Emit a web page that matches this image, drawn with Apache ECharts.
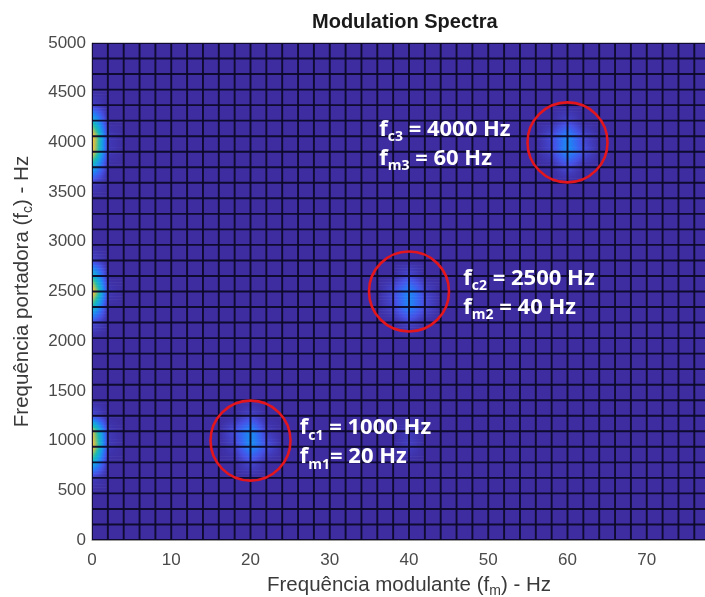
<!DOCTYPE html>
<html>
<head>
<meta charset="utf-8">
<title>Modulation Spectra</title>
<script src="https://cdn.jsdelivr.net/npm/echarts@6/dist/echarts.min.js"></script>
<style>
  html, body { margin: 0; padding: 0; background: #ffffff; }
  #chart { width: 705px; height: 597px; }
</style>
</head>
<body>
<div id="chart"></div>
<script>
// Modulation-frequency sample points (Hz) of the surface mesh
const fmHz = [0, 2, 4, 6, 8, 10, 12, 14, 16, 18, 20, 22, 24, 26, 28, 30, 32, 34, 36, 38,
  40, 42, 44, 46, 48, 50, 52, 54, 56, 58, 60, 62, 64, 66, 68, 70, 72, 74, 76, 78, 80];

// Carrier-frequency sample points (Hz) of the surface mesh
const fcHz = [0, 156.25, 312.5, 468.75, 625, 781.25, 937.5, 1093.75, 1250, 1406.25, 1562.5,
  1718.75, 1875, 2031.25, 2187.5, 2343.75, 2500, 2656.25, 2812.5, 2968.75, 3125, 3281.25,
  3437.5, 3593.75, 3750, 3906.25, 4062.5, 4218.75, 4375, 4531.25, 4687.5, 4843.75, 5000];

// Normalised magnitude everywhere outside the listed samples
const floorLevel = 0;

// Energy of the three carriers at fm = 0: [fm, fc, level]
const carrierEnergy = [
  [0, 1250, 0.1], [0, 1093.75, 0.85], [0, 937.5, 0.95], [0, 781.25, 0.5], [0, 625, 0.05],
  [0, 2812.5, 0.08], [0, 2656.25, 0.55], [0, 2500, 1.0], [0, 2343.75, 0.55], [0, 2187.5, 0.1],
  [0, 4375, 0.06], [0, 4218.75, 0.5], [0, 4062.5, 0.98], [0, 3906.25, 0.92], [0, 3750, 0.45], [0, 3593.75, 0.06],
  [2, 1093.75, 0.04], [2, 937.5, 0.04], [2, 2500, 0.04], [2, 4062.5, 0.04], [2, 3906.25, 0.04]
];

// Modulation peaks: [fm, fc, level]
const modulationEnergy = [
  // fc1 = 1000 Hz, fm1 = 20 Hz
  [20, 1250, 0.08], [20, 1093.75, 0.33], [20, 937.5, 0.33], [20, 781.25, 0.1],
  [18, 1093.75, 0.12], [18, 937.5, 0.06], [22, 1093.75, 0.05], [22, 937.5, 0.12],
  // weak cross term near fm = 40, fc = 1000
  [40, 1093.75, 0.05], [40, 937.5, 0.06],
  // fc2 = 2500 Hz, fm2 = 40 Hz
  [40, 2656.25, 0.1], [40, 2500, 0.31], [40, 2343.75, 0.3], [40, 2187.5, 0.08],
  [38, 2500, 0.1], [38, 2343.75, 0.08], [42, 2500, 0.08], [42, 2343.75, 0.1],
  // fc3 = 4000 Hz, fm3 = 60 Hz
  [60, 4218.75, 0.08], [60, 4062.5, 0.31], [60, 3906.25, 0.33], [60, 3750, 0.1],
  [58, 4062.5, 0.1], [58, 3906.25, 0.08], [62, 4062.5, 0.08], [62, 3906.25, 0.12]
];

// Annotated components
const componentFm = [20, 40, 60];
const componentFc = [1000, 2500, 4000];
const componentIndex = ['1', '2', '3'];

// Axis ticks
const fmTicks = [0, 10, 20, 30, 40, 50, 60, 70];
const fcTicks = [0, 500, 1000, 1500, 2000, 2500, 3000, 3500, 4000, 4500, 5000];

// parula-like colour map
const mapStops = [
  [0.00, '#3d2da0'], [0.12, '#4650e4'], [0.22, '#2f6ef4'], [0.30, '#1c88f0'],
  [0.40, '#1ca2e0'], [0.50, '#0cb4c8'], [0.60, '#30bca0'], [0.70, '#80c070'],
  [0.80, '#cbbd4a'], [0.90, '#eeb83c'], [1.00, '#fad22c']
];
function hexRgb(h) {
  return [parseInt(h.slice(1, 3), 16), parseInt(h.slice(3, 5), 16), parseInt(h.slice(5, 7), 16)];
}
const mapRgb = mapStops.map(s => [s[0], hexRgb(s[1])]);
function levelColor(v) {
  v = Math.max(0, Math.min(1, v));
  for (let k = 1; k < mapRgb.length; k++) {
    if (v <= mapRgb[k][0]) {
      const a = mapRgb[k - 1], b = mapRgb[k];
      const t = (v - a[0]) / (b[0] - a[0]);
      const c = a[1].map((x, n) => Math.round(x + (b[1][n] - x) * t));
      return 'rgb(' + c.join(',') + ')';
    }
  }
  const last = mapRgb[mapRgb.length - 1][1];
  return 'rgb(' + last.join(',') + ')';
}

// Vertex magnitude table z[row = fc][col = fm]
const z = fcHz.map(() => fmHz.map(() => floorLevel));
carrierEnergy.concat(modulationEnergy).forEach(([fm, fc, lv]) => {
  const i = fmHz.indexOf(fm), j = fcHz.indexOf(fc);
  if (i >= 0 && j >= 0) z[j][i] = lv;
});

// Faces: [fmLeft, fcBottom, fmRight, fcTop, zBL, zBR, zTL, zTR]
const faces = [];
for (let j = 0; j < fcHz.length - 1; j++) {
  for (let i = 0; i < fmHz.length - 1; i++) {
    faces.push([fmHz[i], fcHz[j], fmHz[i + 1], fcHz[j + 1],
      z[j][i], z[j][i + 1], z[j + 1][i], z[j + 1][i + 1]]);
  }
}

// Mesh edges: [x1, y1, x2, y2]
const edges = [];
fmHz.forEach(fm => edges.push([fm, fcHz[0], fm, fcHz[fcHz.length - 1]]));
fcHz.forEach(fc => edges.push([fmHz[0], fc, fmHz[fmHz.length - 1], fc]));

// Interpolated face shading
function renderFace(params, api) {
  const p0 = api.coord([api.value(0), api.value(1)]);
  const p1 = api.coord([api.value(2), api.value(3)]);
  const x = p0[0], y = p1[1], w = p1[0] - p0[0], h = p0[1] - p1[1];
  const zbl = api.value(4), zbr = api.value(5), ztl = api.value(6), ztr = api.value(7);
  if (zbl === zbr && zbl === ztl && zbl === ztr) {
    return { type: 'rect', shape: { x: x, y: y, width: w + 0.5, height: h + 0.5 },
      style: { fill: levelColor(zbl) } };
  }
  const strips = 10, stops = 8, children = [];
  for (let k = 0; k < strips; k++) {
    const t = (k + 0.5) / strips;
    const zl = ztl + (zbl - ztl) * t;
    const zr = ztr + (zbr - ztr) * t;
    const colorStops = [];
    for (let s = 0; s < stops; s++) {
      const u = s / (stops - 1);
      colorStops.push({ offset: u, color: levelColor(zl + (zr - zl) * u) });
    }
    children.push({
      type: 'rect',
      shape: { x: x, y: y + k * h / strips, width: w + 0.5, height: h / strips + 0.6 },
      style: { fill: new echarts.graphic.LinearGradient(0, 0, 1, 0, colorStops) }
    });
  }
  return { type: 'group', children: children };
}

function renderEdge(params, api) {
  const a = api.coord([api.value(0), api.value(1)]);
  const b = api.coord([api.value(2), api.value(3)]);
  return { type: 'line', shape: { x1: a[0], y1: a[1], x2: b[0], y2: b[1] },
    style: { stroke: 'rgba(12,8,40,0.94)', lineWidth: 1.9 } };
}

const labelRich = {
  b: { fontFamily: 'Open Sans', fontWeight: 700, fontSize: 22, color: '#ffffff', lineHeight: 29 },
  s: { fontFamily: 'Open Sans', fontWeight: 700, fontSize: 14, color: '#ffffff', lineHeight: 18, verticalAlign: 'bottom' }
};

const components = componentFm.map((fm, k) => ({
  value: [fm, componentFc[k]],
  idx: componentIndex[k],
  label: k === 2
    ? { position: [-147, 43], align: 'left', verticalAlign: 'middle' }
    : { position: 'right', distance: k === 0 ? 8 : 13, offset: [0, 2] }
}));

const nameRich = {
  n: { fontFamily: 'Liberation Sans', fontSize: 20.5, color: '#3a3a3a', lineHeight: 25 },
  s: { fontFamily: 'Liberation Sans', fontSize: 14, color: '#3a3a3a', lineHeight: 15, verticalAlign: 'bottom' }
};

const chart = echarts.init(document.getElementById('chart'), null, { renderer: 'canvas' });
chart.setOption({
  backgroundColor: '#ffffff',
  animation: false,
  title: {
    text: 'Modulation Spectra',
    left: 312, top: 12, padding: 0,
    textStyle: { fontFamily: 'Liberation Sans', fontWeight: 'bold', fontSize: 20, color: '#1a1a1a' }
  },
  grid: {
    left: 92, top: 43, width: 634, height: 497,
    outerBoundsMode: 'none', containLabel: false,
    show: true, borderColor: '#9a9a9a', borderWidth: 1, backgroundColor: 'transparent'
  },
  xAxis: {
    type: 'value', min: 0, max: 80, interval: 10,
    name: '{n|Frequência modulante (f}{s|m}{n|) - Hz}',
    nameLocation: 'middle', nameGap: 33,
    nameTextStyle: { rich: nameRich },
    axisLine: { show: true, lineStyle: { color: '#9a9a9a', width: 1 } },
    axisTick: { show: false },
    splitLine: { show: false },
    axisLabel: {
      margin: 12, fontFamily: 'Liberation Sans', fontSize: 17, color: '#4a4a4a',
      formatter: v => (fmTicks.indexOf(v) >= 0 ? String(v) : '')
    }
  },
  yAxis: {
    type: 'value', min: 0, max: 5000, interval: 500,
    name: '{n|Frequência portadora (f}{s|c}{n|) - Hz}',
    nameLocation: 'middle', nameGap: 57, nameRotate: 90,
    nameTextStyle: { rich: nameRich },
    axisLine: { show: true, lineStyle: { color: '#9a9a9a', width: 1 } },
    axisTick: { show: false },
    splitLine: { show: false },
    axisLabel: {
      margin: 6, fontFamily: 'Liberation Sans', fontSize: 17, color: '#4a4a4a',
      formatter: v => (fcTicks.indexOf(v) >= 0 ? String(v) : '')
    }
  },
  series: [
    {
      name: 'surface', type: 'custom', renderItem: renderFace, data: faces,
      encode: { x: [0, 2], y: [1, 3] }, silent: true, z: 1, clip: true
    },
    {
      name: 'mesh', type: 'custom', renderItem: renderEdge, data: edges,
      encode: { x: [0, 2], y: [1, 3] }, silent: true, z: 2, clip: true
    },
    {
      name: 'components', type: 'scatter', data: components, z: 3,
      symbol: 'circle', symbolSize: 80, silent: true,
      itemStyle: { color: 'rgba(0,0,0,0)', borderColor: '#e3161d', borderWidth: 2.6, opacity: 1 },
      label: {
        show: true,
        formatter: p => '{b|f}{s|c' + p.data.idx + '}{b| = ' + p.data.value[1] + ' Hz}\n' +
          '{b|f}{s|m' + p.data.idx + '}{b|' + (p.data.idx === '1' ? '= ' : ' = ') + p.data.value[0] + ' Hz}',
        rich: labelRich
      }
    }
  ]
});
</script>
</body>
</html>
